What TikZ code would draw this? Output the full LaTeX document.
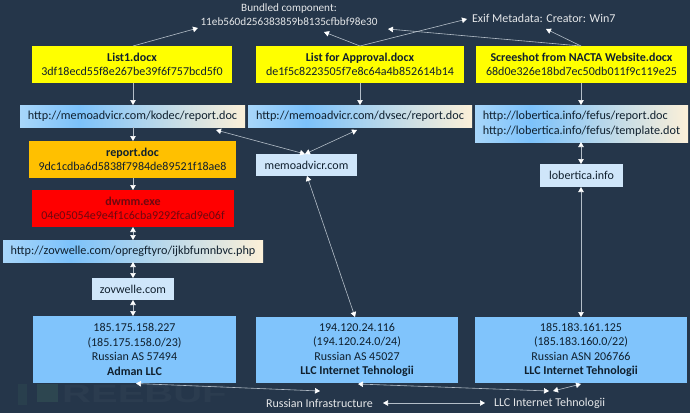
\documentclass[tikz,border=0pt]{standalone}
\usepackage{fontspec}
\setmainfont{Carlito}
\newfontfamily\wmfont{Liberation Sans}
\usetikzlibrary{arrows.meta}
\definecolor{bg}{HTML}{25364A}
\definecolor{ylw}{HTML}{FFFF00}
\definecolor{amber}{HTML}{FFC000}
\definecolor{rd}{HTML}{FF0000}
\definecolor{pale}{HTML}{CFE6FA}
\definecolor{ipblue}{HTML}{80C4FC}
\definecolor{txt}{HTML}{10202E}
\definecolor{redtxt}{HTML}{6E0810}
\definecolor{ln}{HTML}{B4BEC8}
\definecolor{u1}{HTML}{A8D6FA}
\definecolor{u2}{HTML}{7CC2FB}
\definecolor{u3}{HTML}{FCF0D8}
\definecolor{wm}{HTML}{2F4A52}
\pgfdeclarehorizontalshading{urlshade}{100bp}{color(0bp)=(u1); color(25bp)=(u1); color(38bp)=(u2); color(75bp)=(u3); color(100bp)=(u3)}
\tikzset{
  x=1pt,y=-1pt,
  box/.style={inner sep=0pt,outer sep=0pt,align=center,text=txt,font=\fontsize{12}{14.6}\selectfont,anchor=north west},
  urlbox/.style={box,shading=urlshade,font=\fontsize{12.2}{14.8}\selectfont},
  lab/.style={text=white!88!bg,font=\fontsize{12}{14}\selectfont,inner sep=0pt,outer sep=0pt,align=center},
  link/.style={draw=ln,line width=0.6pt,-{Triangle[length=5pt,width=5.5pt,fill=white,color=white]},shorten >=0pt},
  both/.style={draw=ln,line width=0.6pt,{Triangle[length=5pt,width=5.5pt,fill=white,color=white]}-{Triangle[length=5pt,width=5.5pt,fill=white,color=white]}},
}
\begin{document}
\begin{tikzpicture}
\useasboundingbox (0,0) rectangle (690,413);
\fill[bg] (0,0) rectangle (690,413);
% watermark
\fill[wm,opacity=.45] (18,384) rectangle (27,405);
\fill[wm,opacity=.8] (37,384) rectangle (58,402);
\node[anchor=west,inner sep=0pt,text=bg!90!white,opacity=.3,font=\wmfont\bfseries\fontsize{25}{25}\selectfont] (wmark) at (62,394) {\scalebox{1.6}[1]{REEBUF}};
% text labels
\node[lab,font=\fontsize{11.2}{14}\selectfont] (bundle) at (289,14.5) {Bundled component:\\11eb560d256383859b8135cfbbf98e30};
\node[lab,anchor=west] (exif) at (472,18) {Exif Metadata: Creator: Win7};
\node[lab,anchor=west] (rusinf) at (266,403) {Russian Infrastructure};
\node[lab,anchor=west] (llcint) at (494,403) {LLC Internet Tehnologii};
% documents
\node[box,fill=ylw,minimum width=200,minimum height=37] (list1) at (32,46) {\textbf{List1.docx}\\3df18ecd55f8e267be39f6f757bcd5f0};
\node[box,fill=ylw,minimum width=208,minimum height=37] (appr) at (256,46) {\textbf{List for Approval.docx}\\de1f5c8223505f7e8c64a4b852614b14};
\node[box,fill=ylw,minimum width=211,minimum height=37] (nacta) at (476,46) {\textbf{Screeshot from NACTA Website.docx}\\68d0e326e18bd7ec50db011f9c119e25};
% urls
\node[urlbox,minimum width=225,minimum height=22] (url1) at (20,105) {http://memoadvicr.com/kodec/report.doc};
\node[urlbox,minimum width=224,minimum height=22] (url2) at (248,105) {http://memoadvicr.com/dvsec/report.doc};
\node[urlbox,minimum width=213,minimum height=37,align=left] (url3) at (475,105) {http://lobertica.info/fefus/report.doc\\http://lobertica.info/fefus/template.dot};
% payloads
\node[box,fill=amber,minimum width=207,minimum height=37] (report) at (29,141) {\textbf{report.doc}\\9dc1cdba6d5838f7984de89521f18ae8};
\node[box,fill=rd,text=redtxt,minimum width=202,minimum height=37] (dwmm) at (32,190) {\textbf{dwmm.exe}\\04e05054e9e4f1c6cba9292fcad9e06f};
\node[urlbox,minimum width=260,minimum height=22] (url4) at (3,240) {http://zovwelle.com/opregftyro/ijkbfumnbvc.php};
% domains
\node[box,fill=pale,minimum width=101,minimum height=22] (memo) at (256,154) {memoadvicr.com};
\node[box,fill=pale,minimum width=83,minimum height=23] (lob) at (540,164) {lobertica.info};
\node[box,fill=pale,minimum width=82,minimum height=22] (zov) at (92,278) {zovwelle.com};
% IPs
\node[box,fill=ipblue,minimum width=203,minimum height=67] (ip1) at (33,316) {185.175.158.227\\(185.175.158.0/23)\\Russian AS 57494\\\textbf{Adman LLC}};
\node[box,fill=ipblue,minimum width=202,minimum height=66] (ip2) at (256,317) {194.120.24.116\\(194.120.24.0/24)\\Russian AS 45027\\\textbf{LLC Internet Tehnologii}};
\node[box,fill=ipblue,minimum width=212,minimum height=66] (ip3) at (475,317) {185.183.161.125\\(185.183.160.0/22)\\Russian ASN 206766\\\textbf{LLC Internet Tehnologii}};
% free ends
\coordinate (bA) at (198,28);
\coordinate (bB) at (324,32);
\coordinate (bC) at (388,29);
\coordinate (eA) at (467,19);
\coordinate (eB) at (546,29);
\coordinate (m1) at (216,130);
\coordinate (m2) at (357,130);
\coordinate (memoT) at (305,154);
\coordinate (memoB) at (307,176);
\coordinate (ip2T) at (355,317);
\coordinate (rA) at (136,383.5);
\coordinate (rB) at (320,391);
\coordinate (lA) at (358,384);
\coordinate (lB) at (549,391);
\coordinate (lC) at (581,384);
\coordinate (lD) at (553,391);
\coordinate (rE) at (383,403);
\coordinate (lE) at (485,403);
\coordinate (lstT) at (133,46);
\coordinate (apT) at (360,46);
\coordinate (naT) at (581,46);
% connectors
\draw[link] (lstT) -- (bA);
\draw[link] (apT) -- (bB);
\draw[link] (apT) -- (eA);
\draw[link] (naT) -- (bC);
\draw[link] (naT) -- (eB);
\draw[link] (133,83) -- (133,105);
\draw[link] (360,83) -- (360,105);
\draw[link] (581,83) -- (581,105);
\draw[link] (133,127) -- (133,141);
\draw[link] (133,178) -- (133,190);
\draw[both] (133,227) -- (133,240);
\draw[both] (133,262) -- (133,278);
\draw[both] (133,300) -- (133,316);
\draw[both] (memoT) -- (m1);
\draw[both] (memoT) -- (m2);
\draw[both] (ip2T) -- (memoB);
\draw[both] (581,142) -- (581,164);
\draw[both] (581,187) -- (581,317);
\draw[both] (rA) -- (rB);
\draw[both] (lA) -- (lB);
\draw[both] (lC) -- (lD);
\draw[both] (rE) -- (lE);
\end{tikzpicture}
\end{document}
